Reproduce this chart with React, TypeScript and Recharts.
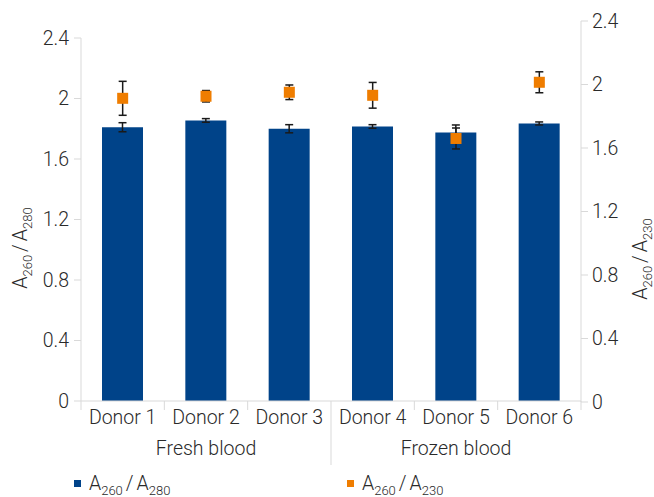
import React from 'react';
import { ComposedChart, Bar, Scatter, XAxis, YAxis, ErrorBar } from 'recharts';

const donors = ['Donor 1', 'Donor 2', 'Donor 3', 'Donor 4', 'Donor 5', 'Donor 6'];
const groups = ['Fresh blood', 'Frozen blood'];
const ratio280 = [1.81, 1.855, 1.8, 1.815, 1.775, 1.835];
const ratio280Err = [0.03, 0.012, 0.027, 0.012, 0.05, 0.01];
const ratio230 = [1.913, 1.926, 1.951, 1.932, 1.66, 2.014];
const ratio230Err = [0.107, 0.036, 0.046, 0.081, 0.066, 0.066];
const yTicks = [0, 0.4, 0.8, 1.2, 1.6, 2, 2.4];
const seriesNames = [
  { base: '260', sub2: '280' },
  { base: '260', sub2: '230' },
];

const BLUE = '#004389';
const ORANGE = '#EF7D00';
const AXIS = '#d9d9d9';
const TEXT = '#2a2a2a';
const FONT = 'Roboto, "Liberation Sans", Arial, sans-serif';
const WEIGHT = 300;
const FS = 19.5;
const SUB = 13;

const data = donors.map((name, i) => ({
  name,
  pos: i + 0.5,
  a280: ratio280[i],
  a280Err: ratio280Err[i],
  a230: ratio230[i],
  a230Err: ratio230Err[i],
}));

const xTicks: number[] = [];
for (let i = 0; i <= donors.length; i++) {
  xTicks.push(i);
  if (i < donors.length) xTicks.push(i + 0.5);
}

const XTick = (props: any) => {
  const { x, y, payload } = props;
  const v = payload.value as number;
  if (Number.isInteger(v)) {
    const len = v === donors.length / 2 ? 64 : 9;
    return <line x1={x} x2={x} y1={y} y2={y + len} stroke={AXIS} strokeWidth={1} />;
  }
  const idx = Math.floor(v);
  const per = donors.length / groups.length;
  return (
    <g>
      <text x={x} y={y + 23} textAnchor="middle" fill={TEXT} fontSize={FS} fontWeight={WEIGHT} fontFamily={FONT}>
        {donors[idx]}
      </text>
      {idx % per === Math.floor(per / 2) && (
        <text x={x} y={y + 54} textAnchor="middle" fill={TEXT} fontSize={FS} fontWeight={WEIGHT} fontFamily={FONT}>
          {groups[Math.floor(idx / per)]}
        </text>
      )}
    </g>
  );
};

const RatioText = ({ s1, s2 }: { s1: string; s2: string }) => (
  <>
    A
    <tspan fontSize={SUB} dy={5}>{s1}</tspan>
    <tspan dy={-5} dx={3}>/</tspan>
    <tspan dx={3}>A</tspan>
    <tspan fontSize={SUB} dy={5}>{s2}</tspan>
  </>
);

const Title = ({ x, y, s1, s2 }: { x: number; y: number; s1: string; s2: string }) => (
  <text
    transform={`translate(${x},${y}) rotate(-90)`}
    textAnchor="middle"
    fill={TEXT}
    fontSize={FS}
    fontWeight={WEIGHT}
    fontFamily={FONT}
  >
    <RatioText s1={s1} s2={s2} />
  </text>
);

const Square = (props: any) => {
  const { cx, cy } = props;
  if (cx == null || cy == null) return null;
  return <rect x={cx - 5.5} y={cy - 5.5} width={11} height={11} fill={ORANGE} />;
};

const tickStyle = { fill: TEXT, fontSize: FS, fontFamily: FONT, fontWeight: WEIGHT };

export default function App() {
  return (
    <div style={{ position: 'absolute', left: 0, top: 0, width: 654, height: 497, background: '#fff' }}>
      <div style={{ position: 'absolute', left: 0, top: 0 }}>
        <ComposedChart width={654} height={497} data={data} margin={{ top: 38, right: 73, bottom: 0, left: 0 }}>
          <XAxis
            dataKey="pos"
            type="number"
            domain={[0, donors.length]}
            ticks={xTicks}
            interval={0}
            height={96}
            tickSize={0}
            tickMargin={0}
            tickLine={false}
            axisLine={{ stroke: AXIS }}
            tick={<XTick />}
          />
          <YAxis
            yAxisId="left"
            domain={[0, 2.4]}
            ticks={yTicks}
            width={81}
            tickSize={7}
            tickMargin={5}
            axisLine={{ stroke: AXIS }}
            tickLine={{ stroke: AXIS }}
            tick={tickStyle}
            label={{ content: () => <Title x={27} y={248} s1={seriesNames[0].base} s2={seriesNames[0].sub2} /> }}
          />
          <Bar yAxisId="left" dataKey="a280" barSize={41} fill={BLUE} isAnimationActive={false}>
            <ErrorBar dataKey="a280Err" width={4} stroke="#1a1a1a" strokeWidth={1.5} direction="y" />
          </Bar>
        </ComposedChart>
      </div>
      <div style={{ position: 'absolute', left: 0, top: 0 }}>
        <ComposedChart width={654} height={497} data={data} margin={{ top: 21, right: 0, bottom: 95, left: 81 }}>
          <XAxis dataKey="pos" type="number" domain={[0, donors.length]} hide />
          <YAxis
            yAxisId="right"
            orientation="right"
            domain={[0, 2.4]}
            ticks={yTicks}
            width={73}
            tickSize={7}
            tickMargin={4}
            axisLine={{ stroke: AXIS }}
            tickLine={{ stroke: AXIS }}
            tick={tickStyle}
            label={{ content: () => <Title x={647} y={259} s1={seriesNames[1].base} s2={seriesNames[1].sub2} /> }}
          />
          <Scatter yAxisId="right" dataKey="a230" fill={ORANGE} shape={<Square />} isAnimationActive={false}>
            <ErrorBar dataKey="a230Err" width={4} stroke="#1a1a1a" strokeWidth={1.5} direction="y" />
          </Scatter>
        </ComposedChart>
      </div>
      <svg width={654} height={497} style={{ position: 'absolute', left: 0, top: 0, pointerEvents: 'none' }}>
        {[BLUE, ORANGE].map((c, i) => (
          <g key={i}>
            <rect x={74 + i * 273} y={480} width={7} height={7} fill={c} />
            <text x={89 + i * 273} y={490} fill={TEXT} fontSize={FS} fontWeight={WEIGHT} fontFamily={FONT}>
              <RatioText s1={seriesNames[i].base} s2={seriesNames[i].sub2} />
            </text>
          </g>
        ))}
      </svg>
    </div>
  );
}
